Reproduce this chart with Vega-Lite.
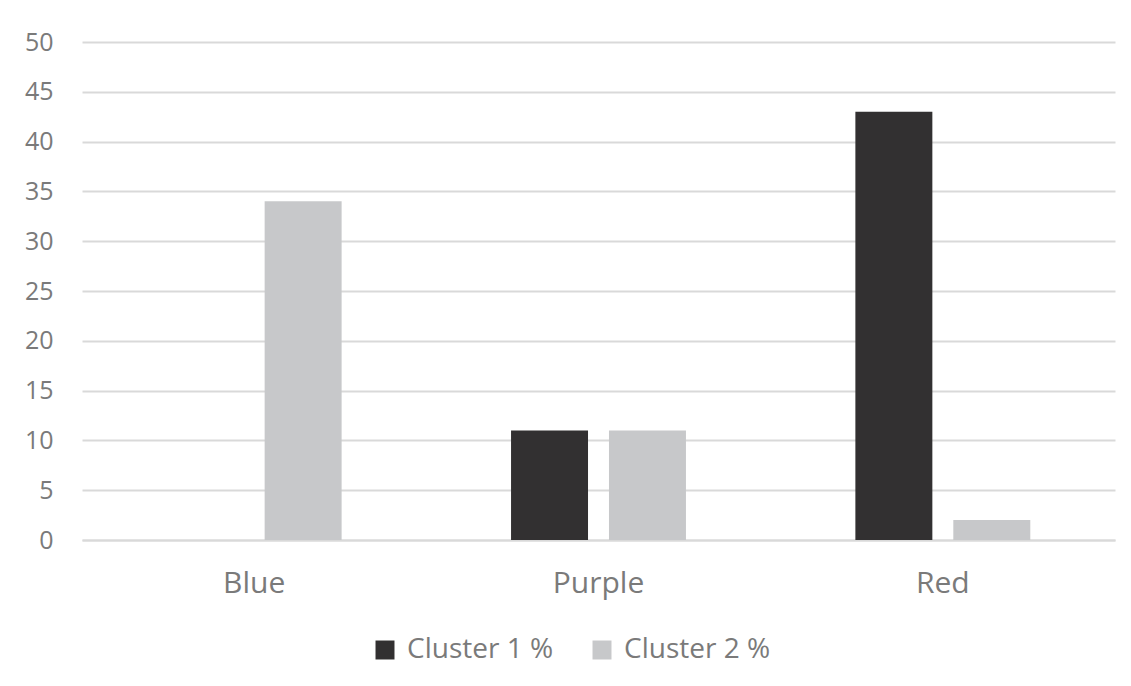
{
  "$schema": "https://vega.github.io/schema/vega-lite/v6.json",
  "autosize": {"type": "none"},
  "width": 1033,
  "height": 498,
  "padding": {"left": 82, "top": 42, "right": 16, "bottom": 146},
  "background": "white",
  "data": {"values": [
    {"category": "Blue", "series": "Cluster 1 %", "value": 0},
    {"category": "Blue", "series": "Cluster 2 %", "value": 34},
    {"category": "Purple", "series": "Cluster 1 %", "value": 11},
    {"category": "Purple", "series": "Cluster 2 %", "value": 11},
    {"category": "Red", "series": "Cluster 1 %", "value": 43},
    {"category": "Red", "series": "Cluster 2 %", "value": 2}
  ]},
  "mark": {"type": "bar", "stroke": null},
  "encoding": {
    "x": {
      "field": "category", "type": "nominal", "sort": ["Blue", "Purple", "Red"],
      "scale": {"paddingInner": 0.492, "paddingOuter": 0.246},
      "axis": {"title": null, "labelAngle": 0, "domain": true, "domainColor": "#d9d9d9", "domainWidth": 2, "ticks": false, "labelFont": "Open Sans", "labelFontSize": 30, "labelColor": "#7a7a7a", "labelPadding": 28}
    },
    "xOffset": {
      "field": "series", "type": "nominal",
      "scale": {"paddingInner": 0.214, "paddingOuter": 0}
    },
    "y": {
      "field": "value", "type": "quantitative",
      "scale": {"domain": [0, 50]},
      "axis": {"title": null, "values": [0,5,10,15,20,25,30,35,40,45,50], "domain": false, "ticks": false, "grid": true, "gridColor": "#d9d9d9", "gridWidth": 2, "labelFont": "Open Sans", "labelFontSize": 25, "labelColor": "#7a7a7a", "labelPadding": 29}
    },
    "color": {
      "field": "series", "type": "nominal",
      "scale": {"domain": ["Cluster 1 %", "Cluster 2 %"], "range": ["#323031", "#c7c8ca"]},
      "legend": {"title": null, "orient": "none", "direction": "horizontal", "legendX": 289, "legendY": 594, "symbolType": "square", "symbolSize": 360, "symbolStrokeWidth": 0, "labelFont": "Open Sans", "labelFontSize": 28, "labelColor": "#7a7a7a", "columnPadding": 34, "labelOffset": 8}
    }
  },
  "config": {"view": {"stroke": null}}
}
